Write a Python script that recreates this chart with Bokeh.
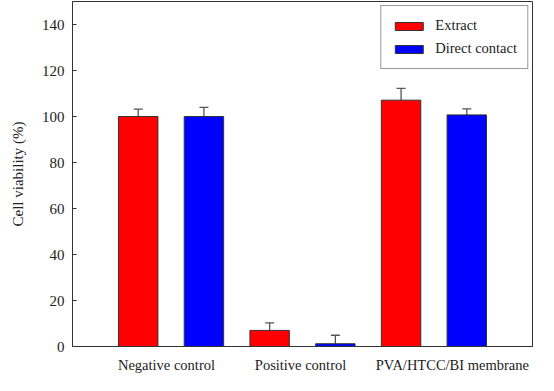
from bokeh.plotting import figure
from bokeh.models import ColumnDataSource, Whisker, TeeHead, FixedTicker, Legend, LegendItem, Range1d
from bokeh.embed import file_html
from bokeh.resources import INLINE

# ---- data ----
groups = ["Negative control", "Positive control", "PVA/HTCC/BI membrane"]
series = ["Extract", "Direct contact"]
extract = [100.0, 7.0, 107.1]
extract_err = [3.2, 3.3, 5.1]
direct = [100.0, 1.2, 100.7]
direct_err = [4.0, 3.7, 2.6]
y_ticks = [0, 20, 40, 60, 80, 100, 120, 140]

# ---- layout ----
n = len(groups)
x_ext = [2 * i + 1 for i in range(n)]
x_dir = [2 * i + 2 for i in range(n)]
label_pos = [1.43, 3.47, 5.78]

FONT = "'Liberation Serif', 'Times New Roman', serif"
LINE = "#333333"

p = figure(width=538, height=375, output_backend="svg", toolbar_location=None,
           x_range=Range1d(0, 2 * n + 1), y_range=Range1d(0, 150),
           min_border_left=72, min_border_right=6, min_border_top=1, min_border_bottom=26)
p.xgrid.visible = False
p.ygrid.visible = False
p.outline_line_color = LINE
p.outline_line_width = 1
p.background_fill_color = "white"
p.border_fill_color = "white"

src_e = ColumnDataSource(dict(x=x_ext, top=extract, up=[v + e for v, e in zip(extract, extract_err)]))
src_d = ColumnDataSource(dict(x=x_dir, top=direct, up=[v + e for v, e in zip(direct, direct_err)]))

for src in (src_e, src_d):
    w = Whisker(source=src, base="x", lower="top", upper="up",
                line_color="#555555", line_width=1.3,
                upper_head=TeeHead(size=9, line_color="#555555", line_width=1.3),
                lower_head=None)
    p.add_layout(w)

r_e = p.vbar(x="x", top="top", width=0.6, source=src_e, fill_color="#FF0000", line_color=LINE, line_width=1)
r_d = p.vbar(x="x", top="top", width=0.6, source=src_d, fill_color="#0000FF", line_color=LINE, line_width=1)

# y axis
ya = p.yaxis[0]
ya.ticker = FixedTicker(ticks=y_ticks)
ya.major_tick_in = 4
ya.major_tick_out = 0
ya.minor_tick_line_color = None
ya.major_label_standoff = 8
ya.major_label_text_font = FONT
ya.major_label_text_font_size = "15px"
ya.major_label_text_color = "#222222"
ya.axis_label = "Cell viability (%)"
ya.axis_label_text_font = FONT
ya.axis_label_text_font_size = "15px"
ya.axis_label_text_font_style = "normal"
ya.axis_label_text_color = "#222222"
ya.axis_label_standoff = 13
ya.axis_line_color = LINE
ya.major_tick_line_color = LINE

# x axis
xa = p.xaxis[0]
xa.ticker = FixedTicker(ticks=label_pos)
xa.major_label_overrides = {pos: g for pos, g in zip(label_pos, groups)}
xa.major_tick_in = 0
xa.major_tick_out = 0
xa.minor_tick_line_color = None
xa.major_label_standoff = 10
xa.major_label_text_font = FONT
xa.major_label_text_font_size = "14.5px"
xa.major_label_text_color = "#222222"
xa.axis_line_color = LINE

legend = Legend(items=[LegendItem(label=series[0], renderers=[r_e]),
                       LegendItem(label=series[1], renderers=[r_d])],
                location="top_right", margin=4, padding=10, spacing=4,
                label_height=19, glyph_height=10, glyph_width=35, label_standoff=9,
                label_text_font=FONT, label_text_font_size="14.5px", label_text_color="#222222",
                border_line_color=LINE, border_line_width=1, background_fill_color="white",
                background_fill_alpha=1.0)
p.add_layout(legend)

open("out.html", "w").write(file_html(p, INLINE))
